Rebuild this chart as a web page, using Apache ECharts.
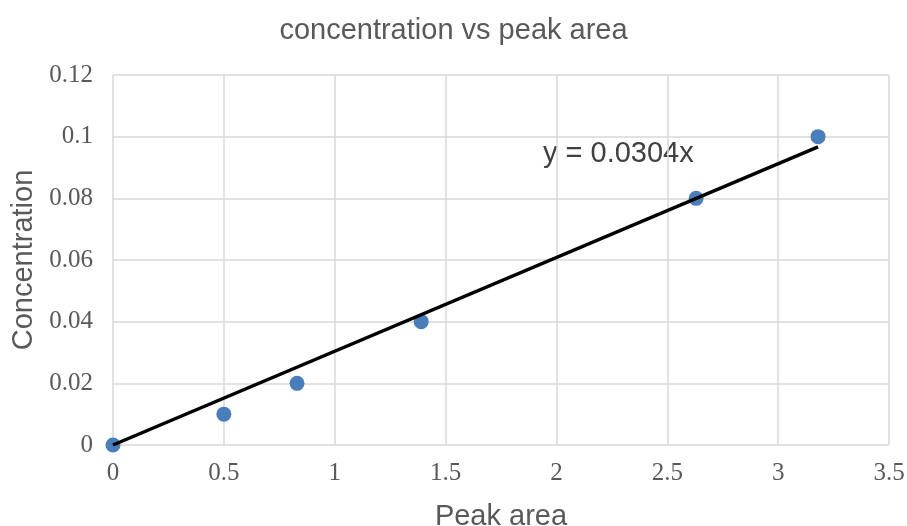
<!DOCTYPE html>
<html><head><meta charset="utf-8">
<script src="https://cdn.jsdelivr.net/npm/echarts@6/dist/echarts.min.js"></script>
<style>html,body{margin:0;padding:0;background:#fff}#c{width:907px;height:526px}</style>
</head><body><div id="c"></div>
<script>
const peakArea = [0, 0.5, 0.83, 1.39, 2.63, 3.18];
const concentration = [0, 0.01, 0.02, 0.04, 0.08, 0.1];
const trendSlope = 0.0304;
const trendLabel = 'y = 0.0304x';
const titleText = 'concentration vs peak area';
const xName = 'Peak area';
const yName = 'Concentration';

const points = peakArea.map((x, i) => [x, concentration[i]]);
const xEnd = Math.max(...peakArea);
const trend = [[0, 0], [xEnd, trendSlope * xEnd]];

const chart = echarts.init(document.getElementById('c'));
const serif = 'Liberation Serif';
const sans = 'Liberation Sans';
chart.setOption({
  animation: false,
  title: { text: titleText, left: 'center', top: 11, textStyle: { fontFamily: sans, fontWeight: 'normal', fontSize: 29, color: '#595959' } },
  grid: { left: 113, right: 18, top: 75, bottom: 81, outerBoundsMode: 'none', containLabel: false },
  xAxis: {
    type: 'value', min: 0, max: 3.5, interval: 0.5,
    name: xName, nameLocation: 'middle', nameGap: 57,
    nameTextStyle: { fontFamily: sans, fontSize: 29, color: '#595959' },
    axisLine: { show: false }, axisTick: { show: false },
    axisLabel: { fontFamily: serif, fontSize: 25, color: '#595959', margin: 16 },
    splitLine: { show: true, lineStyle: { color: '#d9d9d9', width: 1.5 } }
  },
  yAxis: {
    type: 'value', min: 0, max: 0.12, interval: 0.02,
    name: yName, nameLocation: 'middle', nameGap: 73,
    nameTextStyle: { fontFamily: sans, fontSize: 29, color: '#595959' },
    axisLine: { show: false }, axisTick: { show: false },
    axisLabel: { fontFamily: serif, fontSize: 25, color: '#595959', margin: 20 },
    splitLine: { show: true, lineStyle: { color: '#d9d9d9', width: 1.5 } }
  },
  series: [
    { type: 'line', data: trend, symbol: 'none', lineStyle: { color: '#000', width: 3.5 }, z: 3 },
    { type: 'scatter', data: points, symbol: 'circle', symbolSize: 15, itemStyle: { color: '#4a7ebb', opacity: 1 }, z: 2 }
  ],
  graphic: [{ type: 'text', left: 543, top: 139, style: { text: trendLabel, fontFamily: sans, fontSize: 29, fill: '#404040' } }]
});
</script></body></html>
